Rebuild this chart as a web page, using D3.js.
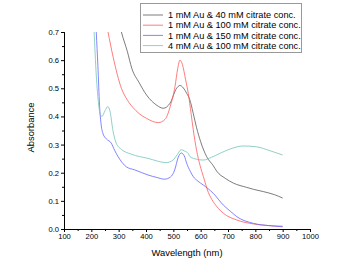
<!DOCTYPE html>
<html><head><meta charset="utf-8">
<script src="https://cdn.jsdelivr.net/npm/d3@7"></script>
<style>
html,body{margin:0;padding:0;background:#fff;}
svg{display:block;font-family:"Liberation Sans",Arial,sans-serif;}
</style></head><body>
<svg id="c" width="360" height="274"></svg>
<script>
// ---- data ----
const seriesNames = [
  "1 mM Au & 40 mM citrate conc.",
  "1 mM Au & 100 mM citrate conc.",
  "1 mM Au & 150 mM citrate conc.",
  "4 mM Au & 100 mM citrate conc."
];
const seriesColors = ["#5a5a5a", "#ff5c5c", "#6565ff", "#74c4b8"];

const wl40  = [300,310,332,348,375,402,439,463,488,512,524,549,560,573,585,600,622,646,659,690,720,768,793,829,870,900];
const abs40 = [0.74,0.70,0.63,0.571,0.52,0.476,0.44,0.429,0.447,0.50,0.51,0.482,0.46,0.41,0.36,0.31,0.257,0.225,0.205,0.18,0.163,0.148,0.141,0.133,0.122,0.11];

const wl100  = [255,261,280,310,332,345,352,375,402,445,470,490,506,516,524,533,545,555,565,573,585,598,610,628,646,665,683,732,793,850,900];
const abs100 = [0.73,0.70,0.61,0.50,0.458,0.44,0.432,0.41,0.393,0.378,0.39,0.44,0.506,0.57,0.60,0.585,0.53,0.48,0.41,0.352,0.28,0.225,0.186,0.13,0.097,0.073,0.056,0.032,0.018,0.012,0.01];

const wl150  = [214,218,224,230,236,243,255,273,285,298,328,359,407,440,468,490,505,518,529,540,549,562,573,590,610,646,683,710,732,793,850,900];
const abs150 = [0.78,0.70,0.58,0.44,0.37,0.338,0.32,0.305,0.28,0.257,0.221,0.21,0.192,0.183,0.177,0.185,0.21,0.255,0.27,0.26,0.233,0.205,0.186,0.17,0.156,0.127,0.085,0.062,0.044,0.02,0.012,0.008];

const wl4Au  = [207,210,218,227,233,239,250,260,268,279,291,310,346,407,474,499,515,529,541,554,561,585,610,640,671,710,756,805,854,900];
const abs4Au = [0.75,0.70,0.547,0.44,0.405,0.40,0.42,0.435,0.42,0.35,0.305,0.283,0.266,0.251,0.236,0.245,0.265,0.282,0.277,0.269,0.257,0.248,0.245,0.255,0.269,0.285,0.295,0.292,0.278,0.263];

const xTicks = [100,200,300,400,500,600,700,800,900,1000];
const yTicks = [0.0,0.1,0.2,0.3,0.4,0.5,0.6,0.7];

// ---- layout ----
const svg = d3.select("#c");
const L = 64, R = 310, T = 32, B = 229;
const x = d3.scaleLinear().domain([100,1000]).range([L,R]);
const y = d3.scaleLinear().domain([0,0.7]).range([B,T]);

const series = [
  {name: seriesNames[0], color: seriesColors[0], xs: wl40,  ys: abs40},
  {name: seriesNames[1], color: seriesColors[1], xs: wl100, ys: abs100},
  {name: seriesNames[2], color: seriesColors[2], xs: wl150, ys: abs150},
  {name: seriesNames[3], color: seriesColors[3], xs: wl4Au, ys: abs4Au}
];

svg.append("defs").append("clipPath").attr("id","clip")
  .append("rect").attr("x",L).attr("y",T).attr("width",R-L).attr("height",B-T);

const line = d3.line().x(d=>x(d[0])).y(d=>y(d[1])).curve(d3.curveMonotoneX);
const g = svg.append("g").attr("clip-path","url(#clip)");
series.forEach(s=>{
  g.append("path").datum(s.xs.map((v,i)=>[v,s.ys[i]]))
    .attr("d",line).attr("fill","none").attr("stroke",s.color).attr("stroke-width",0.8);
});

// axes
const fmtY = d3.format(".1f");
const xAxis = svg.append("g").attr("transform",`translate(0,${B})`)
  .call(d3.axisBottom(x).tickValues(xTicks).tickFormat(d3.format("d")).tickSize(3).tickPadding(2));
const xMinor = svg.append("g").attr("transform",`translate(0,${B})`)
  .call(d3.axisBottom(x).tickValues(d3.range(150,1000,100)).tickFormat("").tickSize(2));
const yAxis = svg.append("g").attr("transform",`translate(${L},0)`)
  .call(d3.axisLeft(y).tickValues(yTicks).tickFormat(fmtY).tickSize(3).tickPadding(2));
const yMinor = svg.append("g").attr("transform",`translate(${L},0)`)
  .call(d3.axisLeft(y).tickValues(d3.range(0.05,0.7,0.1)).tickFormat("").tickSize(2));
[xAxis,xMinor,yAxis,yMinor].forEach(a=>{
  a.selectAll(".domain").attr("stroke","#000").attr("stroke-width",1);
  a.selectAll(".tick line").attr("stroke","#000");
  a.selectAll("text").attr("font-size","7.6px").attr("font-family","Liberation Sans, Arial, sans-serif").attr("fill","#000");
});

svg.append("text").attr("x",(L+R)/2).attr("y",256).attr("text-anchor","middle")
  .attr("font-size","9.4px").text("Wavelength (nm)");
svg.append("text").attr("transform",`translate(34,${(T+B)/2-3}) rotate(-90)`).attr("text-anchor","middle")
  .attr("font-size","9.4px").text("Absorbance");

// legend
const lg = svg.append("g");
lg.append("rect").attr("x",140.5).attr("y",3.5).attr("width",161).attr("height",49)
  .attr("fill","#fff").attr("stroke","#999").attr("stroke-width",1);
series.forEach((s,i)=>{
  const yy = 15 + i*10.2;
  lg.append("line").attr("x1",143).attr("x2",163).attr("y1",yy).attr("y2",yy)
    .attr("stroke",s.color).attr("stroke-width",0.8);
  lg.append("text").attr("x",168).attr("y",yy+3.2).attr("font-size","9.2px").text(s.name);
});
</script>
</body></html>
